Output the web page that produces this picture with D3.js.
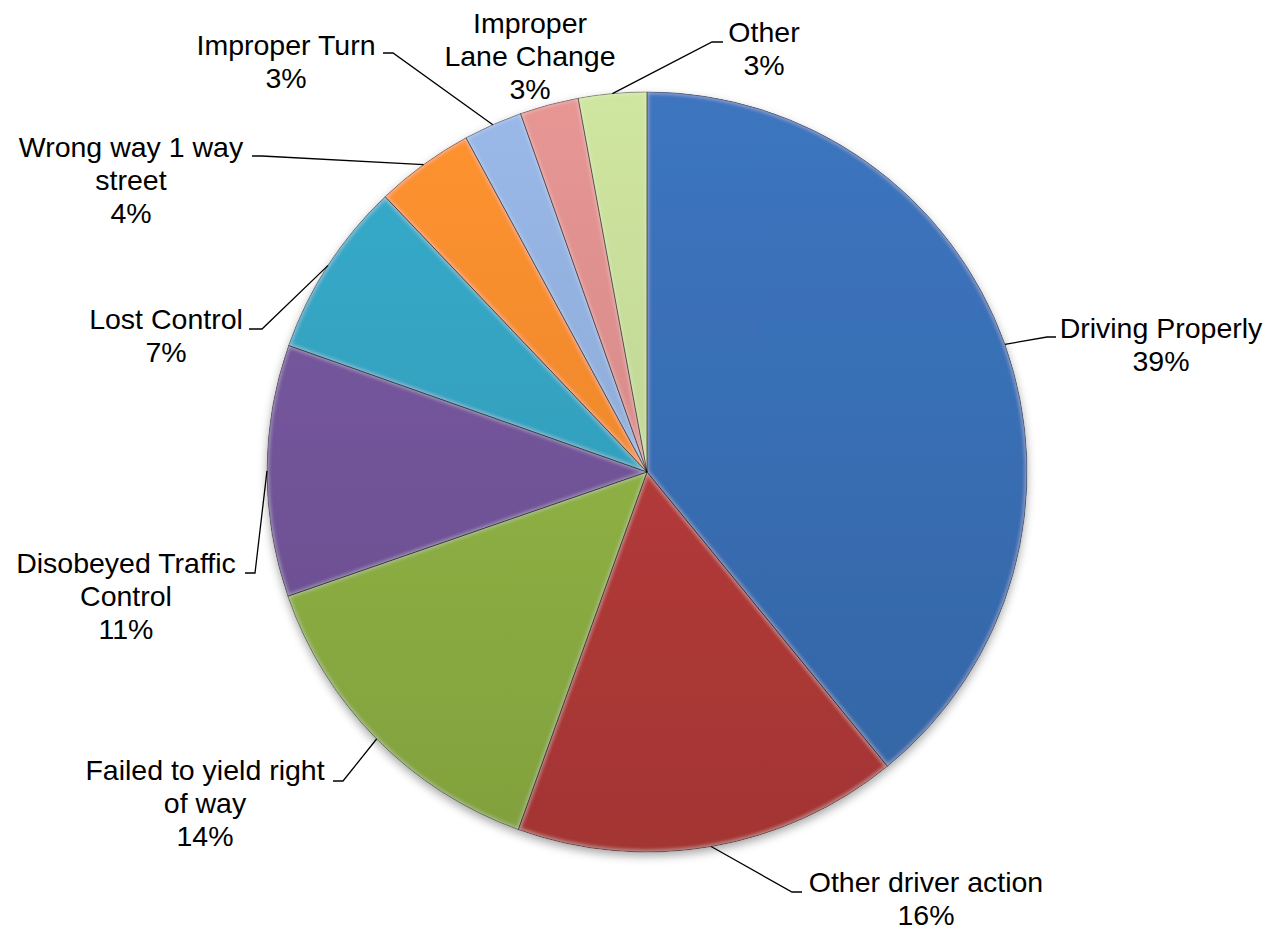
<!DOCTYPE html>
<html>
<head>
<meta charset="utf-8">
<script src="https://cdn.jsdelivr.net/npm/d3@7"></script>
<style>
  html, body { margin: 0; padding: 0; background: #fff; }
  svg { display: block; }
  text { font-family: "Liberation Sans", Arial, sans-serif; fill: #000; }
</style>
</head>
<body>
<svg id="chart" width="1271" height="930"></svg>
<script>
// ---- data ----
const categories = ["Driving Properly", "Other driver action", "Failed to yield right of way",
  "Disobeyed Traffic Control", "Lost Control", "Wrong way 1 way street",
  "Improper Turn", "Improper Lane Change", "Other"];
const values = [39.1, 16.4, 14.2, 10.7, 7.5, 4.2, 2.5, 2.5, 2.9];
const labelLines = [["Driving Properly"], ["Other driver action"], ["Failed to yield right", "of way"],
  ["Disobeyed Traffic", "Control"], ["Lost Control"], ["Wrong way 1 way", "street"],
  ["Improper Turn"], ["Improper", "Lane Change"], ["Other"]];
const colors = ["#386DB2", "#B23A38", "#8DAF43", "#715398", "#33A0BE", "#EF892C", "#8FACD9", "#D78C8A", "#C1D695"];

// ---- layout (label placement, not data) ----
const labelLayout = [
  { x: 1161, y: 338, elbow: [1047, 337], end: [1056, 337] },
  { x: 926,  y: 892, elbow: [792, 892],  end: [802, 892] },
  { x: 205,  y: 780, elbow: [343, 781],  end: [333, 781] },
  { x: 126,  y: 573, elbow: [255, 573],  end: [245, 573] },
  { x: 166,  y: 329, elbow: [262, 329],  end: [249, 329] },
  { x: 131,  y: 157, elbow: [262, 156],  end: [252, 156] },
  { x: 286,  y: 55,  elbow: [393, 53],   end: [383, 53] },
  { x: 530,  y: 33,  elbow: null,        end: null },
  { x: 764,  y: 42,  elbow: [712, 42],   end: [723, 42] }
];

const W = 1271, H = 930, cx = 647, cy = 472, R = 380;
const fontSize = 28.5, lineH = 33;

const svg = d3.select("#chart");
const defs = svg.append("defs");

// drop shadow
const sh = defs.append("filter").attr("id", "shadow").attr("x", "-10%").attr("y", "-10%").attr("width", "120%").attr("height", "125%");
sh.append("feDropShadow").attr("dx", 0).attr("dy", 4).attr("stdDeviation", 5)
  .attr("flood-color", "#000").attr("flood-opacity", 0.35);

// bevel (inner edge highlight)
const bv = defs.append("filter").attr("id", "bevel").attr("x", "-5%").attr("y", "-5%").attr("width", "110%").attr("height", "110%");
bv.append("feGaussianBlur").attr("in", "SourceAlpha").attr("stdDeviation", 2.5).attr("result", "b");
bv.append("feComposite").attr("in", "SourceAlpha").attr("in2", "b").attr("operator", "arithmetic")
  .attr("k1", 0).attr("k2", 1).attr("k3", -1).attr("k4", 0).attr("result", "edge");
bv.append("feFlood").attr("flood-color", "#ffffff").attr("flood-opacity", 0.45).attr("result", "white");
bv.append("feComposite").attr("in", "white").attr("in2", "edge").attr("operator", "in").attr("result", "hl");
const mg = bv.append("feMerge");
mg.append("feMergeNode").attr("in", "SourceGraphic");
mg.append("feMergeNode").attr("in", "hl");

// gradients per slice
colors.forEach((c, i) => {
  const g = defs.append("linearGradient").attr("id", "grad" + i)
    .attr("gradientUnits", "userSpaceOnUse")
    .attr("x1", 0).attr("y1", -R).attr("x2", 0).attr("y2", R);
  const base = d3.color(c);
  g.append("stop").attr("offset", "0%").attr("stop-color", base.brighter(0.2));
  g.append("stop").attr("offset", "50%").attr("stop-color", base);
  g.append("stop").attr("offset", "100%").attr("stop-color", base.darker(0.25));
});

const pie = d3.pie().sort(null).value(d => d);
const arcs = pie(values);
const arc = d3.arc().innerRadius(0).outerRadius(R);

const g = svg.append("g").attr("transform", `translate(${cx},${cy})`);

g.append("circle").attr("r", R).attr("fill", "#888").attr("filter", "url(#shadow)");

g.selectAll("path.slice").data(arcs).enter().append("path")
  .attr("class", "slice")
  .attr("d", arc)
  .attr("fill", (d, i) => `url(#grad${i})`)
  .attr("filter", "url(#bevel)");

g.selectAll("path.outline").data(arcs).enter().append("path")
  .attr("class", "outline")
  .attr("d", arc)
  .attr("fill", "none")
  .attr("stroke", "rgba(0,0,0,0.4)")
  .attr("stroke-width", 0.8);

// leader lines
const total = d3.sum(values);
const leaders = svg.append("g");
arcs.forEach((d, i) => {
  const L = labelLayout[i];
  if (!L.elbow) return;
  const mid = (d.startAngle + d.endAngle) / 2;
  const px = cx + Math.sin(mid) * R, py = cy - Math.cos(mid) * R;
  leaders.append("path")
    .attr("d", d3.line()([[px, py], L.elbow, L.end]))
    .attr("fill", "none").attr("stroke", "#000").attr("stroke-width", 1.3);
});

// labels
const labels = svg.append("g");
arcs.forEach((d, i) => {
  const L = labelLayout[i];
  const lines = labelLines[i].concat([Math.round(values[i] / total * 100) + "%"]);
  const t = labels.append("text")
    .attr("x", L.x).attr("y", L.y)
    .attr("text-anchor", "middle")
    .style("font-size", fontSize + "px");
  lines.forEach((ln, j) => {
    t.append("tspan").attr("x", L.x).attr("y", L.y + j * lineH).text(ln);
  });
});
</script>
</body>
</html>
